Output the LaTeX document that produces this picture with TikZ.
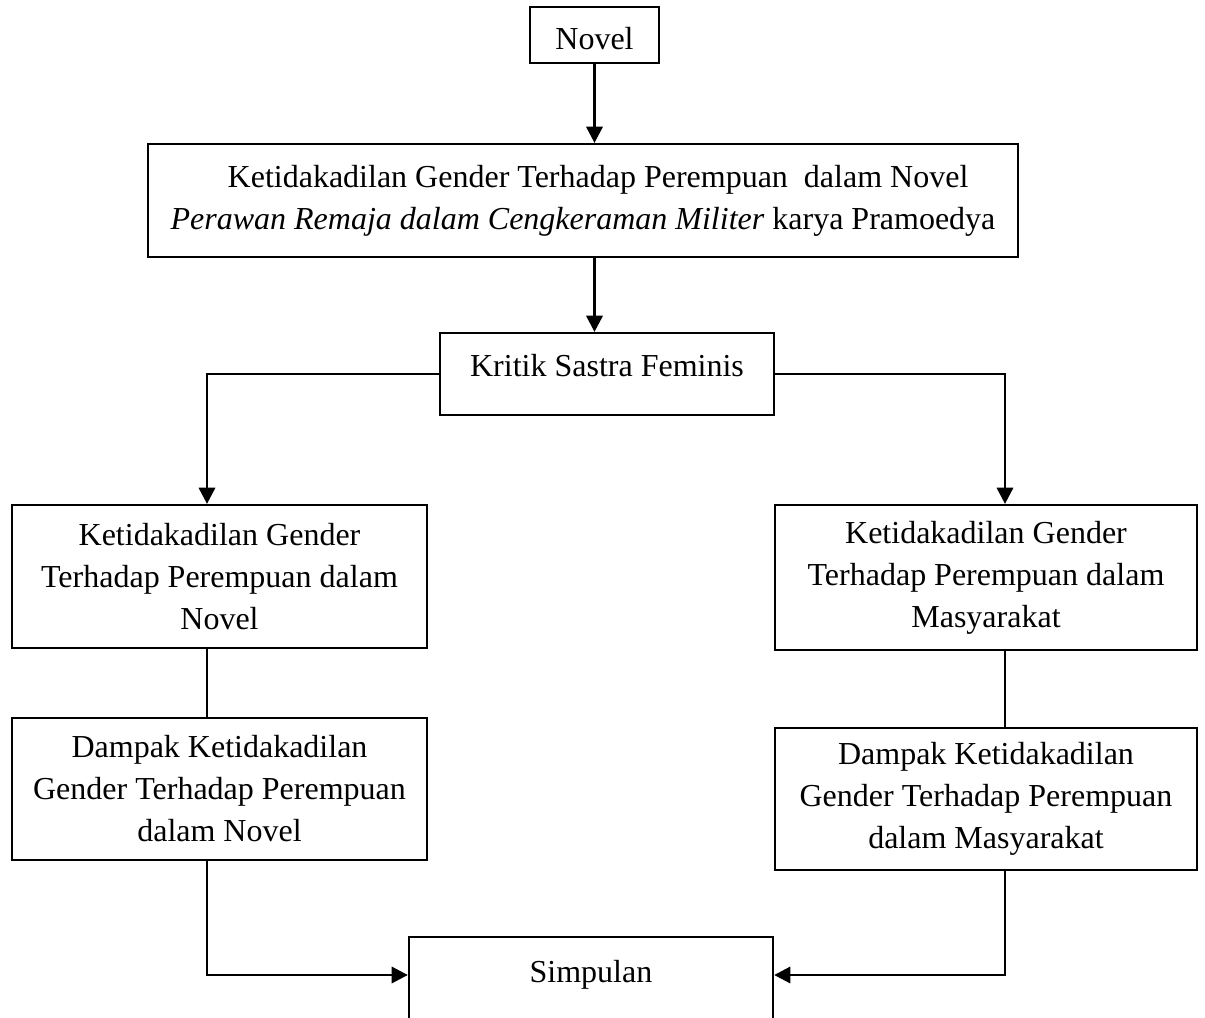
\documentclass[tikz,border=0pt]{standalone}
\usepackage{fontspec}
\setmainfont{Liberation Serif}
\usetikzlibrary{arrows.meta,calc}
\tikzset{
	kotak/.style={draw, line width=0.6pt, align=center, inner sep=0pt},
	panah/.style={line width=0.8pt, -{Triangle[length=4.6pt,width=4.6pt]}},
	garis/.style={line width=0.5pt},
}

\begin{document}
\begin{tikzpicture}[x=0.01cm, y=-0.01cm, font=\fontsize{9.1}{11.95}\selectfont]
			%%%%% START %%%%%
			\useasboundingbox (0,0) rectangle (1205,1018);
			\clip (0,0) rectangle (1205,1018);
			
			\node[kotak, minimum width=1.29cm, minimum height=0.56cm, text height=8.4pt] (novel) at (594.5,35) {Novel};
			\node[kotak, minimum width=8.70cm, minimum height=1.13cm] (ketidakadilan) at (583,200.5) {\hspace*{0.3cm}Ketidakadilan Gender Terhadap Perempuan\ \ dalam Novel\\\textit{Perawan Remaja dalam Cengkeraman Militer} karya Pramoedya};
			\node[kotak, minimum width=3.34cm, minimum height=0.82cm, text depth=5pt] (kritik) at (607,374) {Kritik Sastra Feminis};
			
			\node[kotak, minimum width=4.15cm, minimum height=1.43cm] (kgnovel) at (219.5,576.5) {Ketidakadilan Gender\\Terhadap Perempuan dalam\\Novel};
			\node[kotak, minimum width=4.22cm, minimum height=1.45cm] (kgmasy) at (986,577.5) {Ketidakadilan Gender\\Terhadap Perempuan dalam\\Masyarakat};
			\node[kotak, minimum width=4.15cm, minimum height=1.42cm] (dampaknovel) at (219.5,789) {Dampak Ketidakadilan\\Gender Terhadap Perempuan\\dalam Novel};
			\node[kotak, minimum width=4.22cm, minimum height=1.42cm] (dampakmasy) at (986,799) {Dampak Ketidakadilan\\Gender Terhadap Perempuan\\dalam Masyarakat};
			
			\node[kotak, minimum width=3.64cm, minimum height=1.00cm, text depth=8.8pt] (simpulan) at (591,987) {Simpulan};
			
			\coordinate (kiri) at (207,975);
			\coordinate (kanan) at (1005,975);
			
			\draw[panah] (novel.south) -- (novel.south |- ketidakadilan.north);
			\draw[panah] (ketidakadilan.south -| novel.south) -- (novel.south |- kritik.north);
			\draw[panah] (kritik.west) -| (kiri |- kgnovel.north);
			\draw[panah] (kritik.east) -| (kanan |- kgmasy.north);
			
			\draw[garis] (kiri |- kgnovel.south) -- (kiri |- dampaknovel.north);
			\draw[garis] (kanan |- kgmasy.south) -- (kanan |- dampakmasy.north);
			
			\draw[panah] (kiri |- dampaknovel.south) -- (kiri) -- (kiri -| simpulan.west);
			\draw[panah] (kanan |- dampakmasy.south) -- (kanan) -- (kanan -| simpulan.east);
			%%%%% END %%%%%
\end{tikzpicture}
\end{document}
